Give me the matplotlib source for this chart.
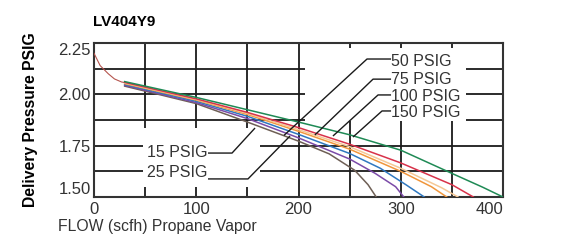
#!/usr/bin/env python3
import matplotlib
matplotlib.use('Agg')
import matplotlib.pyplot as plt
from matplotlib.patches import Rectangle
import numpy as np

plt.rcParams['font.family'] = ['Liberation Sans', 'DejaVu Sans']

# lock-up segment at no flow
lock_x = [0, 6, 14, 20, 27, 32]
lock_y = [2.20, 2.14, 2.10, 2.075, 2.06, 2.056]

# flow curves, one per inlet pressure (scfh, PSIG)
green_x = [30, 100, 150, 200, 250, 300, 350, 380, 400]
green_y = [2.062, 1.985, 1.925, 1.865, 1.803, 1.728, 1.615, 1.548, 1.50]
red_x = [30, 100, 150, 200, 250, 300, 350, 371]
red_y = [2.058, 1.978, 1.912, 1.838, 1.757, 1.666, 1.56, 1.50]
peach_x = [30, 100, 150, 200, 250, 300, 340, 356]
peach_y = [2.055, 1.975, 1.907, 1.828, 1.745, 1.64, 1.545, 1.50]
orange_x = [30, 100, 150, 200, 250, 300, 330, 345]
orange_y = [2.052, 1.972, 1.902, 1.82, 1.733, 1.625, 1.55, 1.50]
blue_x = [30, 100, 150, 200, 250, 280, 305, 323]
blue_y = [2.048, 1.966, 1.893, 1.805, 1.712, 1.64, 1.56, 1.50]
purple_x = [30, 100, 150, 200, 250, 275, 295, 303]
purple_y = [2.044, 1.96, 1.882, 1.788, 1.685, 1.615, 1.55, 1.50]
brown_x = [30, 100, 150, 200, 230, 255, 268, 276]
brown_y = [2.04, 1.955, 1.865, 1.772, 1.71, 1.63, 1.56, 1.50]

curves = [
  (brown_x, brown_y, '#6e5f55'),
  (purple_x, purple_y, '#7b4ba8'),
  (blue_x, blue_y, '#2f78c0'),
  (orange_x, orange_y, '#f0963c'),
  (peach_x, peach_y, '#f5c896'),
  (red_x, red_y, '#d8324a'),
  (green_x, green_y, '#1f8a55'),
]

xticks = [0, 100, 200, 300, 400]
yticks = [1.50, 1.75, 2.00, 2.25]
ytick_labels = ['1.50', '1.75', '2.00', '2.25']

# labels: text, text position, leader path
left_labels = [
  ('15 PSIG', (51.8, 1.719), [(111.5, 1.714), (135, 1.714), (157.5, 1.836)]),
  ('25 PSIG', (51.8, 1.617), [(111.5, 1.588), (150.6, 1.588), (191.7, 1.797)]),
]
right_labels = [
  ('50 PSIG', (290.5, 2.159), [(290.5, 2.172), (267, 2.172), (185.8, 1.80)]),
  ('75 PSIG', (290.5, 2.070), [(290.5, 2.074), (272.9, 2.074), (216, 1.802)]),
  ('100 PSIG', (290.5, 1.988), [(290.5, 1.997), (277.8, 1.997), (233.7, 1.797)]),
  ('150 PSIG', (290.5, 1.911), [(290.5, 1.919), (281.7, 1.919), (253.3, 1.792)]),
]

W, H = 571, 244
fig = plt.figure(figsize=(W/100, H/100), dpi=100)
ax = fig.add_axes([94/W, 1-197/H, (503-94)/W, (197-43)/H])
ax.set_xlim(0, 400)
ax.set_ylim(1.5, 2.25)

gc = '#1a1a1a'
for gx in np.arange(50, 400, 50):
  ax.axvline(gx, color=gc, lw=1.3, zorder=1)
for gy in np.arange(1.625, 2.25, 0.125):
  ax.axhline(gy, color=gc, lw=1.3, zorder=1)

# white label areas cut the grid
ax.add_patch(Rectangle((206, 1.868), 158, 2.226-1.868, fc='white', ec='none', zorder=2))
ax.add_patch(Rectangle((48, 1.549), 114, 1.836-1.549, fc='white', ec='none', zorder=2))

ax.plot(lock_x, lock_y, color='#b5554e', lw=0.8, zorder=3)
for cx, cy, col in curves:
  ax.plot(cx, cy, color=col, lw=1.1, zorder=3)

for txt, (tx, ty), path in left_labels + right_labels:
  px, py = zip(*path)
  ax.plot(px, py, color='#1a1a1a', lw=1.0, zorder=4, solid_capstyle='butt')
  ax.text(tx, ty, txt, fontsize=11.5, color='#333333', ha='left', va='center', zorder=5)

for sp in ax.spines.values():
  sp.set_color('#333333')
  sp.set_linewidth(1.5)

ax.set_xticks(xticks)
ax.set_xticklabels([str(v) for v in xticks])
ax.set_yticks(yticks)
ax.set_yticklabels(ytick_labels)
ax.tick_params(axis='both', length=0, labelsize=12, labelcolor='#333333')
ax.tick_params(axis='x', pad=3.6)
ax.tick_params(axis='y', pad=2.2)
xl = ax.get_xticklabels()
xl[-1].set_ha('right')
yl = ax.get_yticklabels()
yl[0].set_va('bottom')
yl[-1].set_va('top')

fig.text(93/W, 1-22/H, 'LV404Y9', fontsize=11, fontweight='bold', ha='left', va='center')
fig.text(31/W, 1-120/H, 'Delivery Pressure PSIG', fontsize=11.3, fontweight='bold',
         rotation=90, ha='center', va='center')
fig.text(58/W, 1-226/H, 'FLOW (scfh) Propane Vapor', fontsize=11.3, color='#333333',
         ha='left', va='center')

plt.savefig('out.png', dpi=100)
plt.close()
